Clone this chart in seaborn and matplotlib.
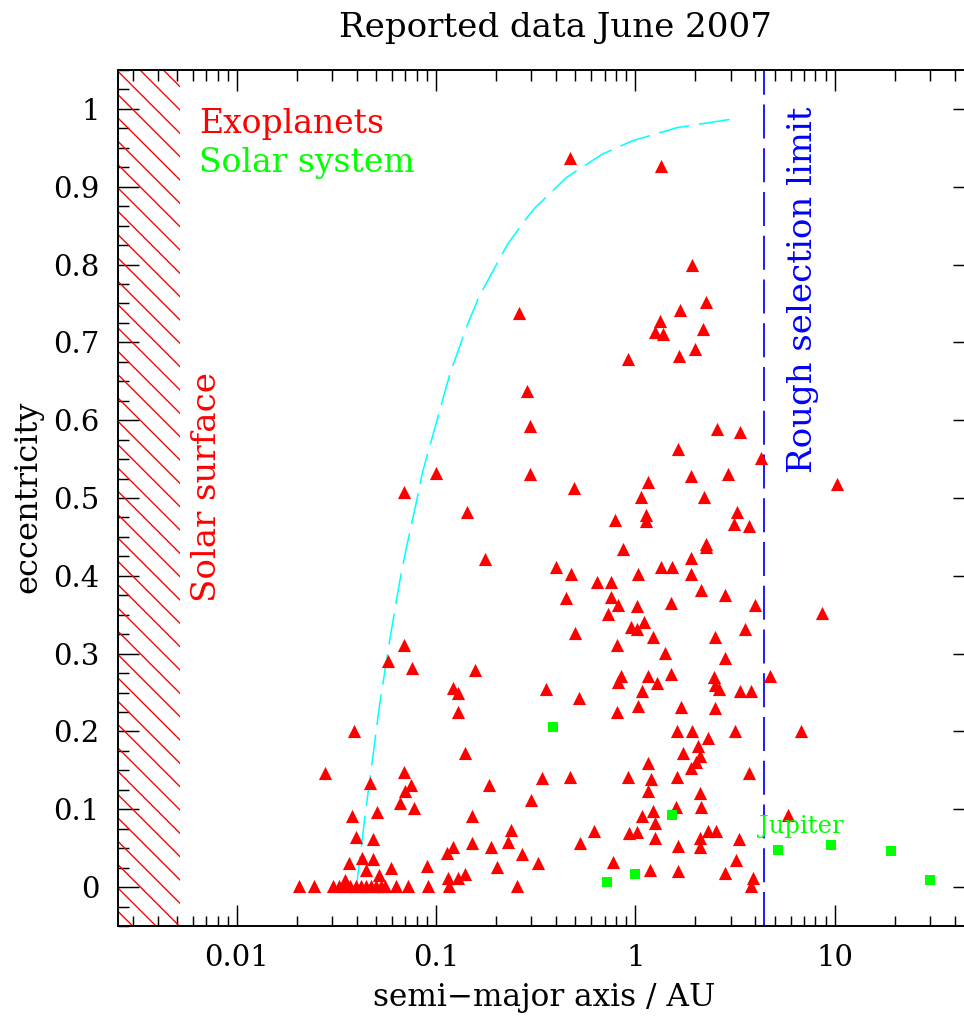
import matplotlib
matplotlib.use("Agg")
import matplotlib.pyplot as plt
from matplotlib.ticker import FixedLocator, LogLocator, NullFormatter, FixedFormatter
import seaborn as sns
import pandas as pd

# ---------------- data ----------------
exo_a = [
    # e ~ 0 row
    0.0206, 0.0245, 0.0302, 0.0325, 0.0347, 0.0370, 0.0398, 0.0420, 0.0445, 0.0470,
    0.0500, 0.0530, 0.0556, 0.0630, 0.0718, 0.0914, 0.1166, 0.253, 3.80,
    # low-e short period
    0.0347, 0.0519, 0.0442, 0.059, 0.090, 0.0367, 0.0422, 0.0479, 0.114, 0.128, 0.139,
    0.0398, 0.0484, 0.152, 0.189, 0.121, 0.113, 0.203,
    0.0376, 0.0507, 0.0655, 0.0778, 0.152,
    0.0468, 0.0751, 0.0701, 0.185,
    0.0278, 0.0686, 0.140, 0.0385, 0.129,
    0.0693, 0.0576, 0.076, 0.157, 0.121, 0.129,
    0.100, 0.0686, 0.143, 0.175,
    # 0.2 - 2 AU, low e
    0.518, 0.81, 1.035, 1.15, 0.341, 0.472, 0.92, 1.19, 1.16, 0.30, 1.22, 1.08, 1.25,
    0.93, 1.02, 0.62, 0.236, 0.228, 1.26, 0.524, 0.268, 0.326, 0.77, 1.18,
    # 1.5 - 7 AU, low e
    1.70, 2.52, 1.61, 1.93, 3.17, 6.8, 2.32, 2.05, 1.74, 2.10, 2.02, 1.91, 1.62, 3.73,
    2.12, 1.59, 2.14, 5.86, 2.32, 2.55, 2.10, 3.29, 1.64, 2.10, 3.21, 1.63, 2.83, 3.91,
    # middle e
    0.297, 0.489, 1.15, 1.06, 0.785, 1.135, 1.135, 0.87, 0.40, 0.477, 1.35, 1.035,
    0.644, 0.75, 0.45, 0.75, 0.82, 1.02, 0.73, 0.955, 1.02, 1.11, 1.23, 0.50, 0.81,
    1.41, 0.85, 0.82, 1.16, 1.29, 1.08, 0.357,
    1.91, 2.90, 2.22, 3.25, 3.14, 3.73, 2.27, 2.27, 1.91, 1.52, 1.91, 2.14, 2.83, 1.50,
    3.96, 3.56, 2.52, 2.80, 1.50, 2.49, 2.52, 2.64, 3.33, 3.82, 4.76,
    # high e
    0.467, 1.35, 1.93, 2.25, 1.68, 0.259, 1.33, 1.25, 1.37, 2.19, 2.00, 1.66, 0.92,
    0.287, 0.294, 2.58, 3.33, 1.64, 4.29,
    10.3, 8.68,
]
exo_e = [
    0.002, 0.002, 0.002, 0.002, 0.002, 0.002, 0.002, 0.002, 0.002, 0.002,
    0.002, 0.002, 0.002, 0.002, 0.002, 0.002, 0.002, 0.002, 0.001,
    0.009, 0.015, 0.022, 0.024, 0.027, 0.031, 0.037, 0.036, 0.012, 0.012, 0.017,
    0.064, 0.062, 0.057, 0.051, 0.051, 0.044, 0.026,
    0.091, 0.096, 0.108, 0.101, 0.091,
    0.134, 0.131, 0.123, 0.131,
    0.146, 0.148, 0.172, 0.200, 0.225,
    0.311, 0.290, 0.281, 0.279, 0.256, 0.249,
    0.532, 0.508, 0.482, 0.422,
    0.243, 0.225, 0.233, 0.159, 0.140, 0.141, 0.141, 0.139, 0.123, 0.112, 0.098, 0.091, 0.082,
    0.069, 0.071, 0.072, 0.073, 0.058, 0.063, 0.057, 0.042, 0.031, 0.032, 0.022,
    0.231, 0.230, 0.201, 0.201, 0.201, 0.201, 0.191, 0.181, 0.172, 0.168, 0.161, 0.153, 0.141, 0.146,
    0.121, 0.103, 0.103, 0.093, 0.072, 0.072, 0.063, 0.062, 0.053, 0.051, 0.035, 0.021, 0.018, 0.012,
    0.531, 0.513, 0.521, 0.501, 0.472, 0.478, 0.470, 0.434, 0.411, 0.402, 0.411, 0.402,
    0.392, 0.392, 0.371, 0.373, 0.362, 0.361, 0.351, 0.334, 0.332, 0.341, 0.321, 0.326, 0.311,
    0.301, 0.271, 0.264, 0.271, 0.262, 0.252, 0.254,
    0.528, 0.531, 0.501, 0.482, 0.467, 0.464, 0.441, 0.437, 0.423, 0.411, 0.402, 0.382, 0.375, 0.365,
    0.362, 0.332, 0.321, 0.294, 0.274, 0.270, 0.260, 0.254, 0.252, 0.252, 0.271,
    0.937, 0.927, 0.800, 0.752, 0.742, 0.738, 0.727, 0.713, 0.711, 0.717, 0.692, 0.683, 0.679,
    0.638, 0.593, 0.589, 0.585, 0.563, 0.551,
    0.518, 0.352,
]

sol_names = ["Mercury", "Venus", "Earth", "Mars", "Jupiter", "Saturn", "Uranus", "Neptune"]
sol_a = [0.387, 0.723, 1.000, 1.524, 5.20, 9.54, 19.19, 30.07]
sol_e = [0.206, 0.007, 0.017, 0.093, 0.048, 0.054, 0.047, 0.009]

# cyan reference curve
curve_a = [0.0398, 0.0442, 0.0474, 0.0519, 0.0586, 0.0655, 0.0710, 0.0797, 0.0854,
           0.117, 0.1436, 0.165, 0.228, 0.287, 0.311, 0.451, 0.683, 0.966, 1.62, 3.07]
curve_e = [0.0, 0.097, 0.155, 0.233, 0.319, 0.392, 0.437, 0.496, 0.533,
           0.659, 0.723, 0.760, 0.826, 0.861, 0.872, 0.912, 0.942, 0.959, 0.976, 0.987]

solar_surface_a = 0.0052
selection_limit_a = 4.4

x_ticks = [0.01, 0.1, 1, 10]
x_tick_labels = ["0.01", "0.1", "1", "10"]
y_ticks = [0.0, 0.1, 0.2, 0.3, 0.4, 0.5, 0.6, 0.7, 0.8, 0.9, 1.0]
y_tick_labels = ["0", "0.1", "0.2", "0.3", "0.4", "0.5", "0.6", "0.7", "0.8", "0.9", "1"]
y_minor = [i * 0.025 - 0.05 for i in range(45)]

title = "Reported data June 2007"

# ---------------- style ----------------
sns.set_style("ticks")
plt.rcParams["font.family"] = ["DejaVu Serif"]
plt.rcParams["text.color"] = "black"
plt.rcParams["axes.labelcolor"] = "black"
plt.rcParams["xtick.color"] = "black"
plt.rcParams["ytick.color"] = "black"
plt.rcParams["hatch.color"] = "red"
plt.rcParams["hatch.linewidth"] = 0.7
plt.rcParams["lines.scale_dashes"] = False

DPI = 140
fig = plt.figure(figsize=(964 / DPI, 1016 / DPI), dpi=DPI)
fig.patch.set_facecolor("white")
ax = fig.add_axes([118 / 964, 90 / 1016, (974 - 118) / 964, 856 / 1016])
ax.set_facecolor("white")
ax.set_xscale("log")
xmin, xmax = 0.00253, 50.0
ax.set_xlim(xmin, xmax)
ax.set_ylim(-0.05, 1.05)

# hatched solar surface region
ax.fill_betweenx([-0.06, 1.06], 0.002, solar_surface_a, facecolor="none",
                 edgecolor="red", hatch="\\\\", linewidth=0, zorder=1)

# cyan curve
n_before = len(ax.lines)
sns.lineplot(x=curve_a, y=curve_e, sort=False, estimator=None, color="#00ffff",
             linewidth=0.8, ax=ax, zorder=2)
for ln in ax.lines[n_before:]:
    ln.set_dashes([16, 5])

# selection limit
ax.axvline(selection_limit_a, color="#0000ff", linewidth=0.9, dashes=[17.5, 5], zorder=2)

df_exo = pd.DataFrame({"a": exo_a, "e": exo_e})
df_sol = pd.DataFrame({"name": sol_names, "a": sol_a, "e": sol_e})
sns.scatterplot(data=df_exo, x="a", y="e", marker="^", s=46, color="#ff0000",
                linewidth=0, ax=ax, zorder=3)
sns.scatterplot(data=df_sol, x="a", y="e", marker="s", s=32, color="#00ff00",
                linewidth=0, ax=ax, zorder=3)

# ticks
ax.xaxis.set_major_locator(FixedLocator(x_ticks))
ax.xaxis.set_major_formatter(FixedFormatter(x_tick_labels))
ax.xaxis.set_minor_locator(LogLocator(base=10, subs=[2, 3, 4, 5, 6, 7, 8, 9], numticks=20))
ax.xaxis.set_minor_formatter(NullFormatter())
ax.yaxis.set_major_locator(FixedLocator(y_ticks))
ax.yaxis.set_major_formatter(FixedFormatter(y_tick_labels))
ax.yaxis.set_minor_locator(FixedLocator(y_minor))
ax.tick_params(which="both", direction="in", top=True, right=True, bottom=True, left=True,
               width=0.75, color="black", labelcolor="black", labelsize=15, pad=9.5)
ax.tick_params(which="major", length=10.8)
ax.tick_params(which="minor", length=5.4)
for sp in ax.spines.values():
    sp.set_linewidth(1.0)
    sp.set_color("black")
    sp.set_visible(True)

ax.set_xlabel("semi\u2212major axis / AU", fontsize=16, color="black")
ax.set_ylabel("eccentricity", fontsize=16.5, color="black")
ax.xaxis.set_label_coords(0.4977, -0.066)
ax.yaxis.set_label_coords(-0.087, 0.501)

# text annotations
ax.text(0.00644, 0.969, "Exoplanets", color="#ff0000", fontsize=17, va="baseline", ha="left")
ax.text(0.00644, 0.919, "Solar system", color="#00ff00", fontsize=17, va="baseline", ha="left")
ax.text(0.00707, 0.514, "Solar surface", color="#ff0000", fontsize=17.5, rotation=90,
        va="center", ha="center")
ax.text(6.9, 0.767, "Rough selection limit", color="#0000ff", fontsize=17.5, rotation=90,
        va="center", ha="center")
ax.text(4.17, 0.069, "Jupiter", color="#00ff00", fontsize=12.5, va="baseline", ha="left")

fig.text(555 / 964, 1 - 37 / 1016, title, fontsize=17.5, ha="center", va="baseline", color="black")

fig.savefig("out.png", dpi=DPI, facecolor="white")
